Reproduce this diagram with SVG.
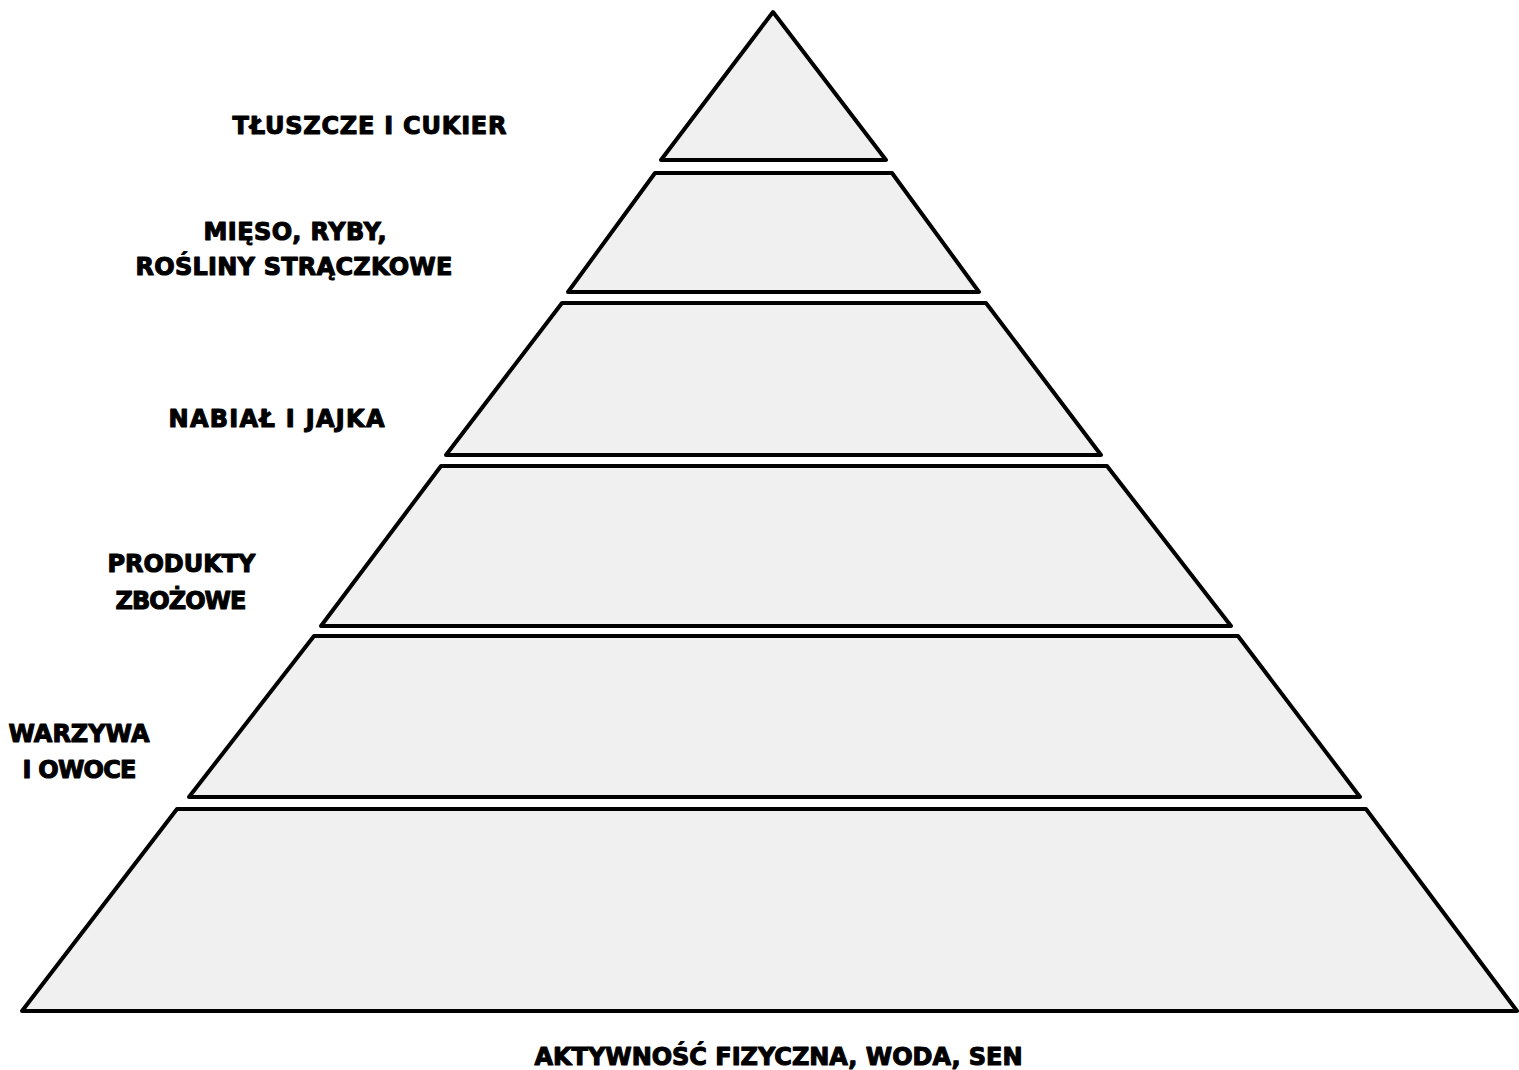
<svg xmlns="http://www.w3.org/2000/svg" width="1519" height="1070" viewBox="0 0 1519 1070">
<style>
.tier{fill:#f0f0f0;stroke:#000;stroke-width:4;stroke-linejoin:round}
.lbl{font-family:"DejaVu Sans","Liberation Sans",sans-serif;font-weight:bold;font-size:24px;fill:#000;stroke:#000;stroke-width:1.1;stroke-linejoin:round;text-anchor:middle}
</style>
<rect width="1519" height="1070" fill="#fff"/>
<g id="tier1"><polygon class="tier" points="773,12 886,160 661,160"/></g>
<g id="tier2"><polygon class="tier" points="655,173 892,173 979,292 568,292"/></g>
<g id="tier3"><polygon class="tier" points="562,303 986,303 1101,455 446,455"/></g>
<g id="tier4"><polygon class="tier" points="441,466 1107,466 1231,626 321,626"/></g>
<g id="tier5"><polygon class="tier" points="314,636 1238,636 1360,797 189,797"/></g>
<g id="tier6"><polygon class="tier" points="177,809 1366,809 1517,1011 22,1011"/></g>
<g id="labels">
<text class="lbl" x="369.5" y="134" textLength="274">TŁUSZCZE I CUKIER</text>
<text class="lbl" x="295" y="240" textLength="183">MIĘSO, RYBY,</text>
<text class="lbl" x="294" y="275" textLength="317">ROŚLINY STRĄCZKOWE</text>
<text class="lbl" x="276.5" y="427" textLength="216">NABIAŁ I JAJKA</text>
<text class="lbl" x="181.5" y="572" textLength="148">PRODUKTY</text>
<text class="lbl" x="181" y="609" textLength="131">ZBOŻOWE</text>
<text class="lbl" x="79" y="742" textLength="141">WARZYWA</text>
<text class="lbl" x="79.5" y="778" textLength="114">I OWOCE</text>
<text class="lbl" x="778.5" y="1065" textLength="488">AKTYWNOŚĆ FIZYCZNA, WODA, SEN</text>
</g>
</svg>
